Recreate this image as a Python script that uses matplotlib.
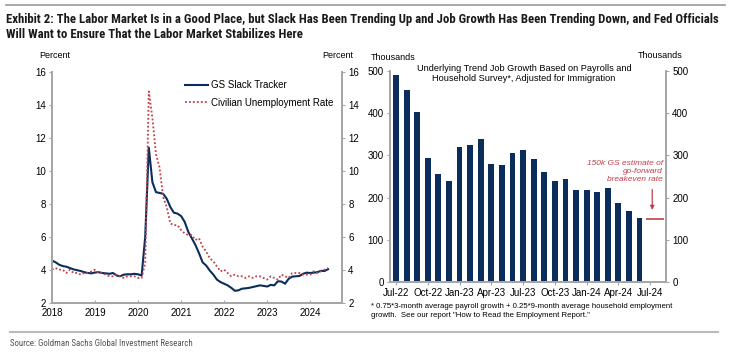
import matplotlib.pyplot as plt
import numpy as np

# left panel: monthly, Jan 2018 .. Jun 2024
slack = [4.55, 4.45, 4.3, 4.22, 4.18, 4.1, 4.02, 3.97, 3.92, 3.85, 3.8, 3.78,
         3.83, 3.85, 3.8, 3.78, 3.75, 3.8, 3.65, 3.6, 3.7, 3.72, 3.72, 3.75,
         3.72, 3.65, 6.0, 11.4, 9.3, 8.7, 8.65, 8.6, 8.3, 7.8, 7.45, 7.4,
         7.25, 6.9, 6.3, 5.9, 5.5, 5.0, 4.45, 4.25, 3.95, 3.7, 3.4, 3.25,
         3.15, 3.05, 2.9, 2.72, 2.75, 2.85, 2.87, 2.9, 2.95, 3.0, 3.05, 3.02,
         2.98, 3.08, 3.05, 3.3, 3.28, 3.15, 3.45, 3.58, 3.6, 3.62, 3.75, 3.82,
         3.8, 3.82, 3.85, 3.93, 3.92, 4.03]
unrate = [4.0, 4.1, 4.0, 4.0, 3.8, 4.0, 3.8, 3.8, 3.7, 3.8, 3.8, 3.9,
          4.0, 3.8, 3.8, 3.7, 3.6, 3.6, 3.7, 3.6, 3.5, 3.6, 3.6, 3.6,
          3.5, 3.5, 4.4, 14.8, 13.2, 11.0, 10.2, 8.4, 7.8, 6.8, 6.7, 6.7,
          6.4, 6.2, 6.1, 6.1, 5.8, 5.9, 5.4, 5.1, 4.7, 4.5, 4.2, 3.9,
          4.0, 3.8, 3.6, 3.7, 3.6, 3.6, 3.5, 3.6, 3.5, 3.6, 3.6, 3.5,
          3.4, 3.6, 3.5, 3.4, 3.7, 3.6, 3.5, 3.8, 3.8, 3.8, 3.7, 3.7,
          3.7, 3.9, 3.8, 3.9, 4.0, 4.1]
months = 2018 + np.arange(len(slack)) / 12.0

# right panel: Jul-22 .. Jun-24
job_growth = [490, 456, 402, 293, 257, 240, 321, 325, 338, 279, 278, 305,
              313, 292, 261, 239, 244, 218, 217, 213, 223, 188, 168, 152]
bar_ticks = ["Jul-22", "Oct-22", "Jan-23", "Apr-23", "Jul-23", "Oct-23",
             "Jan-24", "Apr-24", "Jul-24"]
breakeven = 150

navy = "#0b2d5b"
red = "#c0404a"
grey = "#a6a6a6"
narrow = ["Roboto Condensed", "DejaVu Sans"]

plt.rcParams["font.family"] = ["Liberation Sans", "DejaVu Sans"]
plt.rcParams["font.size"] = 7

fig = plt.figure(figsize=(7.4, 3.53), dpi=100)


def style(ax):
    for side in ["left", "right", "bottom"]:
        ax.spines[side].set_color(grey)
        ax.spines[side].set_linewidth(1.3)
    ax.spines["top"].set_visible(False)
    ax.tick_params(colors=grey, labelcolor="black", labelsize=7, length=2.5,
                   width=0.8, pad=2)


# ---- left chart
ax1 = fig.add_axes([52 / 740, 0.1425, 290 / 740, 0.6545])
ax1.plot(months, slack, color=navy, lw=1.5, label="GS Slack Tracker")
ax1.plot(months, unrate, color=red, lw=1.3, ls=(0, (1, 1.2)),
         label="Civilian Unemployment Rate")
ax1.set_xlim(2018, 2024.74)
ax1.set_ylim(2, 16)
ax1.set_yticks(range(2, 17, 2))
ax1.set_xticks(range(2018, 2025))
style(ax1)
ax1.tick_params(axis="x", direction="in", pad=4)
ax1r = ax1.twinx()
ax1r.set_ylim(2, 16)
ax1r.set_yticks(range(2, 17, 2))
style(ax1r)
ax1.legend(loc="upper left", bbox_to_anchor=(0.43, 1.0), frameon=False,
           fontsize=7, handlelength=2.3, handletextpad=0.3, labelspacing=0.75)
fig.text(55 / 740, 1 - 55 / 353, "Percent", fontsize=6.5, ha="center", va="center")
fig.text(338 / 740, 1 - 55 / 353, "Percent", fontsize=6.5, ha="center", va="center")

# ---- right chart
ax2 = fig.add_axes([390 / 740, 0.201, 276 / 740, 0.598])
x = np.arange(len(job_growth))
ax2.bar(x, job_growth, width=0.55, color=navy)
ax2.set_xlim(-0.57, 25.5)
ax2.set_ylim(0, 500)
ax2.set_yticks(range(0, 501, 100))
ax2.set_xticks(np.arange(0, 25, 3))
ax2.set_xticklabels(bar_ticks)
style(ax2)
ax2r = ax2.twinx()
ax2r.set_ylim(0, 500)
ax2r.set_yticks(range(0, 501, 100))
style(ax2r)

ax2.hlines(breakeven, 23.6, 25.3, color=red, lw=1.2)
ax2.annotate("", xy=(24.2, breakeven + 14), xytext=(24.2, breakeven + 76),
             arrowprops=dict(arrowstyle="-|>", color=red, lw=0.9,
                             mutation_scale=6))
ax2.text(25.2, 262, "150k GS estimate of\ngo-forward\nbreakeven rate",
         color=red, fontsize=6, style="italic", ha="right", va="center",
         linespacing=1.25)
fig.text(524 / 740, 1 - 73.5 / 353,
         "Underlying Trend Job Growth Based on Payrolls and\n"
         "Household Survey*, Adjusted for Immigration",
         ha="center", va="center", fontsize=6.6, linespacing=1.2)
fig.text(393 / 740, 1 - 57 / 353, "Thousands", fontsize=6.5, ha="center", va="center")
fig.text(660 / 740, 1 - 56 / 353, "Thousands", fontsize=6.5, ha="center", va="center")

fig.text(371 / 740, 1 - 311 / 353,
         "* 0.75*3-month average payroll growth + 0.25*9-month average household employment\n"
         "growth.  See our report \"How to Read the Employment Report.\"",
         fontsize=5.6, ha="left", va="center", linespacing=1.25)

# ---- header / footer
fig.add_artist(plt.Line2D([6 / 740, 725 / 740], [1 - 5 / 353, 1 - 5 / 353],
                          color="#999999", lw=1.2))
fig.text(6 / 740, 1 - 27 / 353,
         "Exhibit 2: The Labor Market Is in a Good Place, but Slack Has Been Trending Up "
         "and Job Growth Has Been Trending Down, and Fed Officials\n"
         "Will Want to Ensure That the Labor Market Stabilizes Here",
         family=narrow, weight="bold", fontsize=9.2, ha="left", va="center",
         linespacing=1.1, color="#1a1a1a")
fig.add_artist(plt.Line2D([10 / 740, 718 / 740], [1 - 332 / 353, 1 - 332 / 353],
                          color="#bbbbbb", lw=1.5))
fig.text(10 / 740, 1 - 343 / 353, "Source: Goldman Sachs Global Investment Research",
         family=narrow, fontsize=6.4, color="#555555", ha="left", va="center")

fig.savefig("out.png", dpi=100)
